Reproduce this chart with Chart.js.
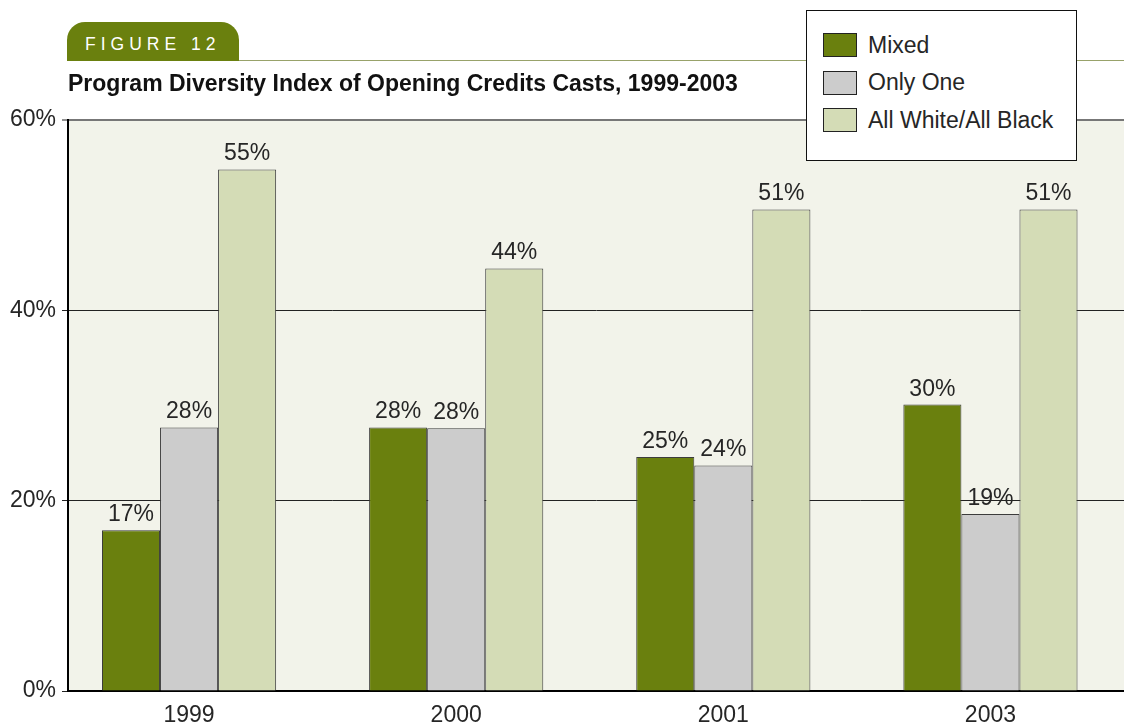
<!DOCTYPE html>
<html>
<head>
<meta charset="utf-8">
<script src="https://cdn.jsdelivr.net/npm/chart.js@4.4.1/dist/chart.umd.min.js"></script>
<style>
  html, body { margin: 0; padding: 0; background: #ffffff; }
  #wrap { position: relative; width: 1124px; height: 728px; overflow: hidden; font-family: "Liberation Sans", Arial, sans-serif; }
  #chart { position: absolute; left: 0; top: 0; }
  #tab {
    position: absolute; left: 67px; top: 22px; width: 172px; height: 39px;
    background: #6a800e; border-radius: 18px 18px 0 0;
    color: #ffffff; font-size: 17.5px; font-weight: normal; letter-spacing: 5px;
    line-height: 45px; box-sizing: border-box; padding-left: 18px; white-space: nowrap;
  }
  #rule { position: absolute; left: 67px; top: 60px; width: 1057px; height: 1px; background: #98a26a; }
  #title {
    position: absolute; left: 68px; top: 70px;
    font-size: 23px; font-weight: bold; color: #111111; white-space: nowrap;
  }
  #legend {
    position: absolute; left: 806px; top: 10px; width: 271px; height: 151px;
    box-sizing: border-box; border: 1px solid #111111; background: #ffffff;
  }
  .item { position: absolute; left: 16px; height: 26px; display: flex; align-items: center; }
  .swatch { width: 34px; height: 24px; box-sizing: border-box; border: 1px solid #222222; margin-right: 11px; }
  .item span { font-size: 23px; color: #262626; white-space: nowrap; }
</style>
</head>
<body>
<div id="wrap">
  <canvas id="chart" width="1124" height="728"></canvas>
  <div id="rule"></div>
  <div id="tab">FIGURE 12</div>
  <div id="title">Program Diversity Index of Opening Credits Casts, 1999-2003</div>
  <div id="legend"></div>
</div>
<script>
// Survey years shown along the bottom
const years = ['1999', '2000', '2001', '2003'];

// Share of programs (%) by opening-credits cast type
const mixed = [16.9, 27.7, 24.6, 30.1];
const onlyOne = [27.7, 27.6, 23.7, 18.6];
const allWhiteAllBlack = [54.8, 44.4, 50.6, 50.6];

const seriesNames = ['Mixed', 'Only One', 'All White/All Black'];
const yTicks = [0, 20, 40, 60];

const fills = ['#6a800e', '#cccccc', '#d4dcb6'];
const font = '"Liberation Sans", Arial, sans-serif';

const toPoints = arr => arr.map((v, i) => ({ x: i, y: v }));

// Plot background panel
const panelBg = {
  id: 'panelBg',
  beforeDraw(chart) {
    const { ctx, chartArea: a } = chart;
    ctx.save();
    ctx.fillStyle = '#f2f3ea';
    ctx.fillRect(a.left, a.top, a.right - a.left, a.bottom - a.top);
    ctx.restore();
  }
};

// Percentage labels above each bar
const barLabels = {
  id: 'barLabels',
  afterDatasetsDraw(chart) {
    const { ctx } = chart;
    ctx.save();
    ctx.font = '23px ' + font;
    ctx.fillStyle = '#262626';
    ctx.textAlign = 'center';
    ctx.textBaseline = 'alphabetic';
    chart.data.datasets.forEach((ds, di) => {
      chart.getDatasetMeta(di).data.forEach((bar, i) => {
        const v = ds.data[i].y;
        ctx.fillText(Math.round(v) + '%', bar.x, bar.y - 9);
      });
    });
    ctx.restore();
  }
};

const chart = new Chart(document.getElementById('chart'), {
  type: 'bar',
  data: {
    datasets: [mixed, onlyOne, allWhiteAllBlack].map((arr, k) => ({
      label: seriesNames[k],
      data: toPoints(arr),
      backgroundColor: fills[k],
      borderColor: '#3c3c3c',
      borderWidth: 1,
      borderSkipped: 'bottom',
      categoryPercentage: 0.652,
      barPercentage: 1
    }))
  },
  options: {
    responsive: false,
    animation: false,
    layout: { padding: { top: 120, right: 0, left: 0, bottom: 0 } },
    plugins: { legend: { display: false }, tooltip: { enabled: false } },
    scales: {
      x: {
        type: 'linear',
        offset: false,
        min: -0.4532,
        max: 3.5,
        afterBuildTicks(scale) { scale.ticks = years.map((_, i) => ({ value: i })); },
        afterFit(scale) { scale.height = 37; },
        grid: { display: false, drawTicks: false, offset: false },
        border: { display: true, color: '#000000', width: 2 },
        ticks: {
          autoSkip: false,
          maxRotation: 0,
          padding: 11,
          color: '#262626',
          font: { family: font, size: 23 },
          callback: v => years[v]
        }
      },
      y: {
        min: 0,
        max: 60,
        afterBuildTicks(scale) { scale.ticks = yTicks.map(v => ({ value: v })); },
        afterFit(scale) { scale.width = 68; },
        border: { display: true, color: '#000000', width: 2 },
        grid: {
          color: c => c.tick.value === 60 ? '#777777' : (c.tick.value === 0 ? 'rgba(0,0,0,0)' : '#222222'),
          lineWidth: c => c.tick.value === 60 ? 2 : 1,
          tickColor: '#222222',
          tickLength: 6,
          tickWidth: 1
        },
        ticks: {
          padding: 6,
          color: '#262626',
          font: { family: font, size: 23 },
          callback: v => v + '%'
        }
      }
    }
  },
  plugins: [panelBg, barLabels]
});

// Legend box built from the dataset names and colours
const legend = document.getElementById('legend');
seriesNames.forEach((name, k) => {
  const item = document.createElement('div');
  item.className = 'item';
  item.style.top = (21 + k * 37.5) + 'px';
  const sw = document.createElement('div');
  sw.className = 'swatch';
  sw.style.background = fills[k];
  const label = document.createElement('span');
  label.textContent = name;
  item.appendChild(sw);
  item.appendChild(label);
  legend.appendChild(item);
});
</script>
</body>
</html>
